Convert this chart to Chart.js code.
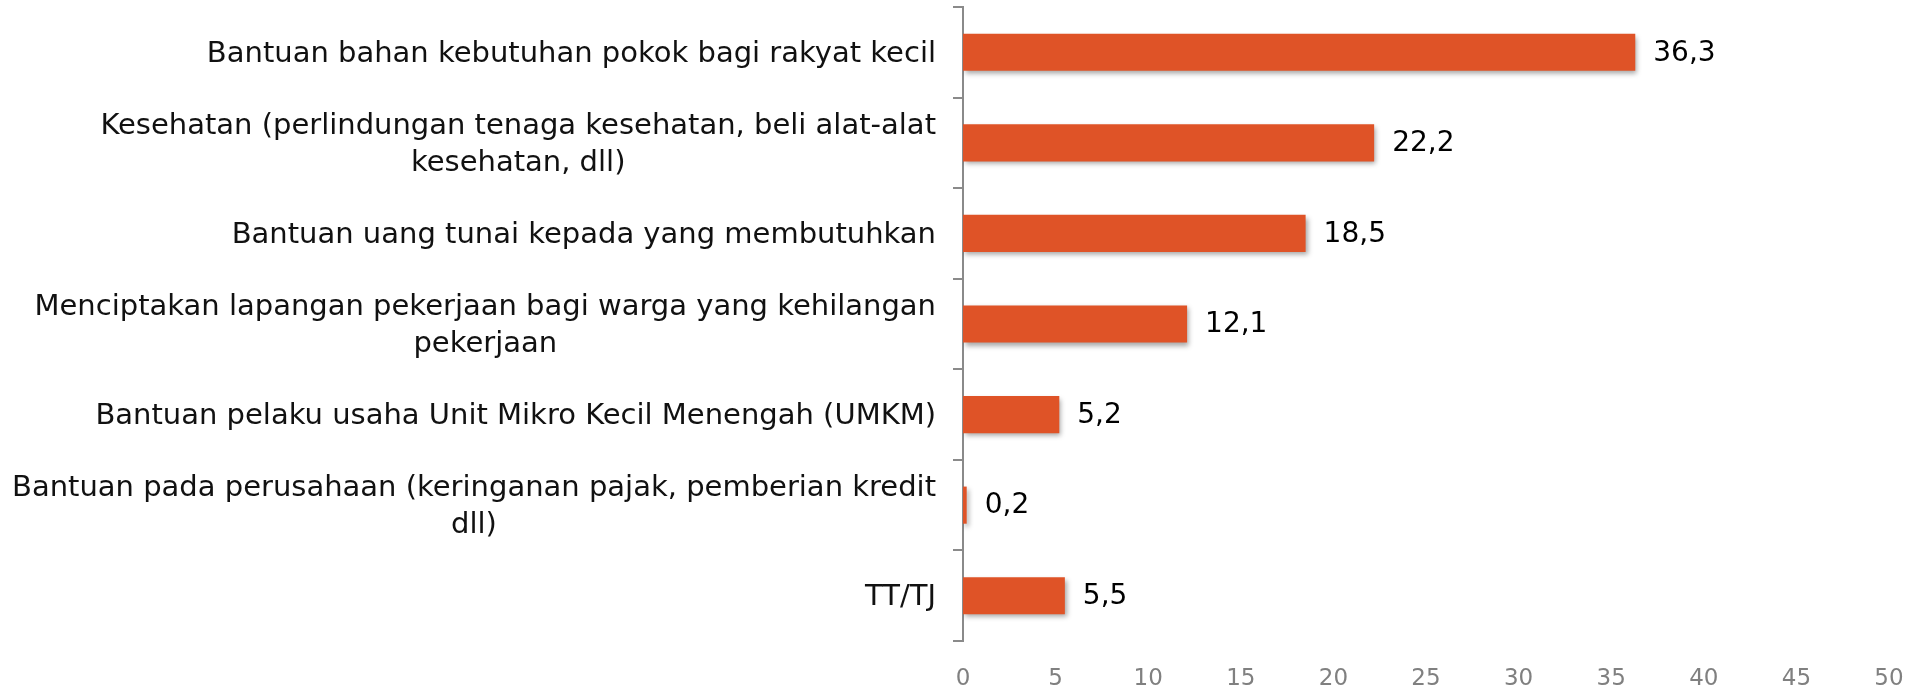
<!DOCTYPE html>
<html>
<head>
<meta charset="utf-8">
<script src="https://cdn.jsdelivr.net/npm/chart.js@4/dist/chart.umd.min.js"></script>
<style>
  html, body { margin: 0; padding: 0; background: #ffffff; }
  #wrap { width: 1913px; height: 689px; position: relative; }
</style>
</head>
<body>
<div id="wrap"><canvas id="c" width="1913" height="689"></canvas></div>
<script>
const categories = [
  "Bantuan bahan kebutuhan pokok bagi rakyat kecil",
  ["Kesehatan (perlindungan tenaga kesehatan, beli alat-alat", "kesehatan, dll)"],
  "Bantuan uang tunai kepada yang membutuhkan",
  ["Menciptakan lapangan pekerjaan bagi warga yang kehilangan", "pekerjaan"],
  "Bantuan pelaku usaha Unit Mikro Kecil Menengah (UMKM)",
  ["Bantuan pada perusahaan (keringanan pajak, pemberian kredit", "dll)"],
  "TT/TJ"
];
const values = [36.3, 22.2, 18.5, 12.1, 5.2, 0.2, 5.5];
const xTicks = [0, 5, 10, 15, 20, 25, 30, 35, 40, 45, 50];

const FONT = "'DejaVu Sans', sans-serif";
const BAR_COLOR = '#DF5327';
const AXIS_GRAY = '#8a8a8a';

const shadowPlugin = {
  id: 'barShadow',
  beforeDatasetDraw(chart) {
    const ctx = chart.ctx;
    ctx.save();
    ctx.shadowColor = 'rgba(0,0,0,0.35)';
    ctx.shadowBlur = 5;
    ctx.shadowOffsetX = 2;
    ctx.shadowOffsetY = 3;
  },
  afterDatasetDraw(chart) {
    chart.ctx.restore();
  }
};

const labelsPlugin = {
  id: 'customLabels',
  afterDraw(chart) {
    const ctx = chart.ctx;
    const yScale = chart.scales.y;
    const meta = chart.getDatasetMeta(0);
    ctx.save();
    ctx.font = "29px " + FONT;
    ctx.fillStyle = '#111111';
    ctx.textBaseline = 'middle';
    ctx.textAlign = 'center';
    const rightEdge = 936;
    const lh = 37;
    categories.forEach((cat, i) => {
      const lines = Array.isArray(cat) ? cat : [cat];
      const w = Math.max(...lines.map(l => ctx.measureText(l).width));
      const cx = rightEdge - w / 2;
      const yc = yScale.getPixelForTick(i) + 2;
      const y0 = yc - (lines.length - 1) * lh / 2;
      lines.forEach((l, k) => ctx.fillText(l, cx, y0 + k * lh));
    });
    ctx.font = "28px " + FONT;
    ctx.fillStyle = '#000000';
    ctx.textAlign = 'left';
    meta.data.forEach((bar, i) => {
      const txt = values[i].toFixed(1).replace('.', ',');
      ctx.fillText(txt, bar.x + 18, bar.y + 1);
    });
    ctx.restore();
  }
};

new Chart(document.getElementById('c'), {
  type: 'bar',
  data: {
    labels: categories,
    datasets: [{
      data: values,
      backgroundColor: BAR_COLOR,
      borderWidth: 0,
      categoryPercentage: 1.0,
      barPercentage: 0.41
    }]
  },
  options: {
    indexAxis: 'y',
    responsive: false,
    animation: false,
    devicePixelRatio: 1,
    layout: { padding: { top: 7, right: 24, left: 0, bottom: 0 } },
    plugins: {
      legend: { display: false },
      tooltip: { enabled: false }
    },
    scales: {
      x: {
        min: 0,
        max: 50,
        afterBuildTicks(scale) { scale.ticks = xTicks.map(v => ({ value: v })); },
        grid: { display: false },
        border: { display: false },
        ticks: {
          color: '#808080',
          font: { family: FONT, size: 23 },
          padding: 16,
          maxRotation: 0
        },
        afterFit(scale) {
          scale.height = 48;
          scale.paddingLeft = 0;
          scale.paddingRight = 0;
        }
      },
      y: {
        grid: {
          display: true,
          drawOnChartArea: false,
          drawTicks: true,
          tickLength: 10,
          color: AXIS_GRAY,
          lineWidth: 2,
          offset: true
        },
        border: { display: true, color: AXIS_GRAY, width: 2 },
        ticks: { display: false },
        afterFit(scale) { scale.width = 963; }
      }
    }
  },
  plugins: [shadowPlugin, labelsPlugin]
});
</script>
</body>
</html>
